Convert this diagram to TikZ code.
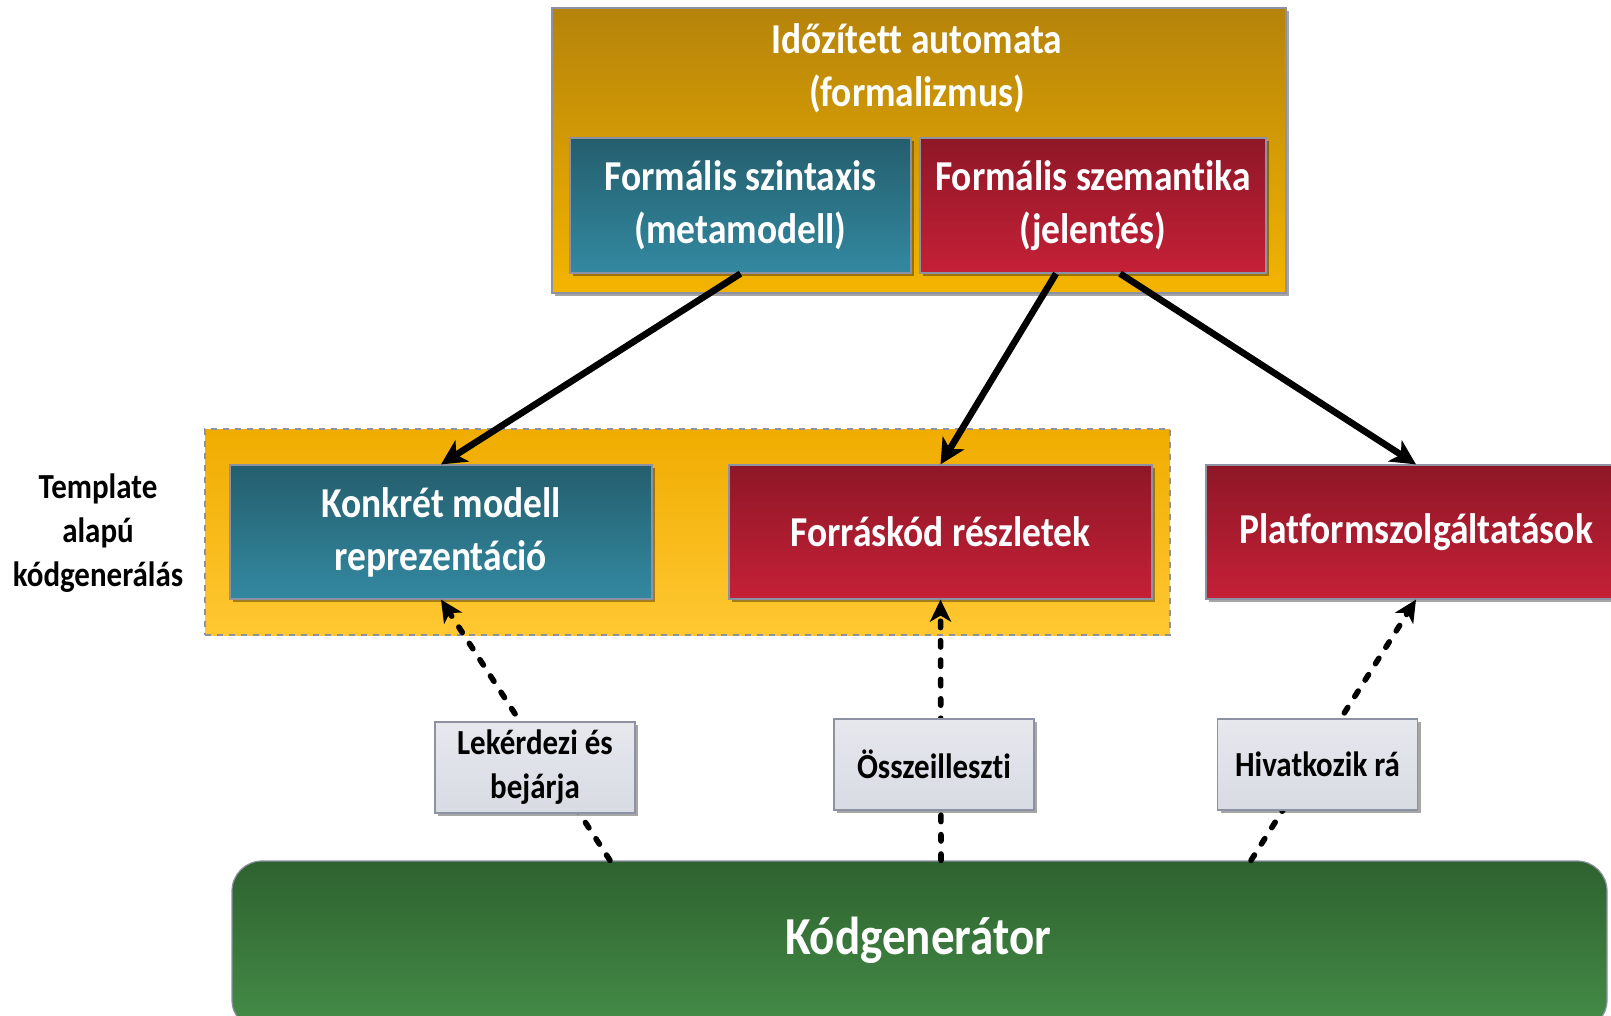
\documentclass[tikz,border=0pt]{standalone}
\usepackage{fontspec}
\setmainfont{Carlito}[FakeStretch=0.88,Ligatures={NoCommon}]
\usetikzlibrary{arrows.meta,shadows,calc}
\definecolor{goldA}{HTML}{B5830A}
\definecolor{goldB}{HTML}{F4B400}
\definecolor{dgoldA}{HTML}{F0AC00}
\definecolor{dgoldB}{HTML}{FFC832}
\definecolor{tealA}{HTML}{245E6D}
\definecolor{tealB}{HTML}{3389A1}
\definecolor{redA}{HTML}{8E1727}
\definecolor{redB}{HTML}{C52037}
\definecolor{greenA}{HTML}{2E622F}
\definecolor{greenB}{HTML}{458D48}
\definecolor{lblA}{HTML}{E6E8EE}
\definecolor{lblB}{HTML}{D9DBE3}
\definecolor{edge}{HTML}{8C91A3}
\begin{document}
\begin{tikzpicture}[x=0.5pt,y=0.5pt,
  shad/.style={drop shadow={shadow xshift=1.5pt,shadow yshift=-1.5pt,opacity=0.35,fill=black}},
  box/.style={draw=edge, line width=0.6pt, text=white, align=center, inner sep=0pt, shad,
    font=\bfseries\fontsize{21.3}{26.5}\selectfont},
  tealbox/.style={box, top color=tealA, bottom color=tealB},
  redbox/.style={box, top color=redA, bottom color=redB},
  lbl/.style={draw=edge, line width=0.6pt, align=center, inner sep=0pt, shad,
    top color=lblA, bottom color=lblB, minimum width=100pt, minimum height=45.5pt,
    font=\bfseries\fontsize{17.6}{22}\selectfont},
  solidarrow/.style={line width=3.3pt, -{Stealth[length=12.5pt,width=12.5pt,inset=3.5pt]}},
  dasharrow/.style={line width=2.8pt, line cap=round, dash pattern=on 3.2pt off 6.5pt,
    -{Stealth[length=11pt,width=10.5pt,inset=3pt]}}
]
\useasboundingbox (0,0) rectangle (1611,-1016);

% top container
\node[box, top color=goldA, bottom color=goldB, minimum width=367pt, minimum height=142.5pt]
  (ta) at (919,-150.5) {};
\node[text=white, align=center, font=\bfseries\fontsize{21.3}{26.5}\selectfont] (tatext) at (917,-68)
  {Időzített automata\\(formalizmus)};
\node[tealbox, minimum width=170.5pt, minimum height=67.5pt] (szint) at (740.5,-205.5)
  {Formális szintaxis\\(metamodell)};
\node[redbox, minimum width=173pt, minimum height=67.5pt] (szem) at (1093,-205.5)
  {Formális szemantika\\(jelentés)};

% template container
\node[draw=edge, dashed, line width=0.6pt, top color=dgoldA, bottom color=dgoldB,
  minimum width=482.5pt, minimum height=103pt, inner sep=0pt] (tmpl) at (687.5,-532) {};
\node[align=center, font=\bfseries\fontsize{17.6}{22}\selectfont] (tmpltext) at (98,-533)
  {Template\\alapú\\kódgenerálás};
\node[tealbox, minimum width=211pt, minimum height=67pt] (konk) at (441,-532)
  {Konkrét modell\\reprezentáció};
\node[redbox, minimum width=211.5pt, minimum height=67pt] (forr) at (940.5,-532)
  {Forráskód részletek};
\node[redbox, minimum width=210pt, minimum height=67pt] (plat) at (1416,-532)
  {Platformszolgáltatások};

% code generator
\node[draw=edge, line width=0.6pt, rounded corners=15pt, top color=greenA, bottom color=greenB,
  minimum width=687.5pt, minimum height=84.5pt, inner sep=0pt] (kod) at (919.5,-945.5) {};
\node[text=white, font=\bfseries\fontsize{26.7}{32}\selectfont] (kodtext) at (918,-940) {Kódgenerátor};

% solid arrows
\draw[solidarrow] (szint.south) -- (konk.north);
\draw[solidarrow] ([xshift=-18.5pt]szem.south) -- (forr.north);
\draw[solidarrow] ([xshift=13.5pt]szem.south) -- (plat.north);

% dashed arrows
\draw[dasharrow] ([xshift=-154.75pt]kod.north) -- (konk.south);
\draw[dasharrow] ([xshift=10.75pt]kod.north) -- (forr.south);
\draw[dasharrow] ([xshift=165.75pt]kod.north) -- (plat.south);

% labels
\node[lbl] (l1) at (535,-767.5) {Lekérdezi és\\bejárja};
\node[lbl] (l2) at (934,-764.5) {Összeilleszti};
\node[lbl] (l3) at (1317.5,-764.5) {Hivatkozik rá};
\end{tikzpicture}
\end{document}
